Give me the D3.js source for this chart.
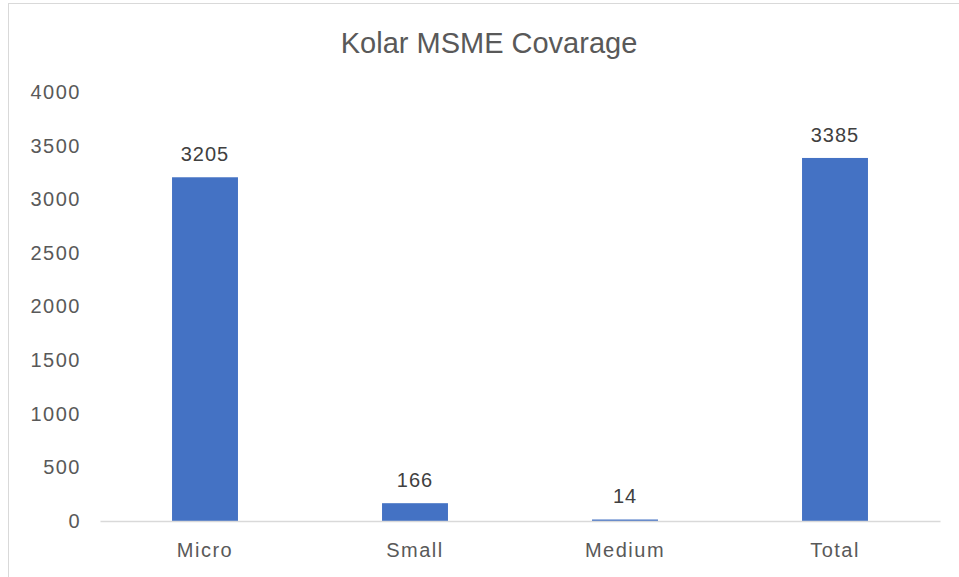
<!DOCTYPE html>
<html>
<head>
<meta charset="utf-8">
<script src="https://cdn.jsdelivr.net/npm/d3@7"></script>
<style>
  body { margin: 0; background: #fff; }
  text { font-family: "Liberation Sans", Arial, sans-serif; }
</style>
</head>
<body>
<script>
"use strict";

// Width and height
let w = 959;
let h = 577;

// chart data
let categories = ["Micro", "Small", "Medium", "Total"];
let values = [3205, 166, 14, 3385];
let yTicks = [0, 500, 1000, 1500, 2000, 2500, 3000, 3500, 4000];
let title = "Kolar MSME Covarage";

let margin = {top: 92, right: 19, bottom: 56, left: 100};

let svg = d3.select("body")
    .append("svg")
    .attr("width", w)
    .attr("height", h);

// chart frame
svg.append("rect")
    .attr("x", 8.5)
    .attr("y", 3.5)
    .attr("width", w + 10)
    .attr("height", h + 10)
    .attr("fill", "none")
    .attr("stroke", "#d9d9d9");

let x = d3.scaleBand()
    .domain(categories)
    .range([margin.left, w - margin.right])
    .paddingInner(0.686)
    .paddingOuter(0.343);

let y = d3.scaleLinear()
    .domain([0, 4000])
    .range([h - margin.bottom, margin.top]);

svg.append("text")
    .attr("x", 489)
    .attr("y", 53)
    .attr("text-anchor", "middle")
    .attr("fill", "#595959")
    .style("font-size", "29px")
    .text(title);

// y axis labels, no line
let yAxis = svg.append("g")
    .attr("transform", `translate(${margin.left},0)`)
    .call(d3.axisLeft(y).tickValues(yTicks).tickFormat(d3.format("d"))
        .tickSize(0).tickPadding(19));
yAxis.select(".domain").remove();
yAxis.selectAll("text")
    .attr("fill", "#595959")
    .style("font-size", "20px")
    .style("letter-spacing", "1.5px");

// bars
svg.append("g")
    .selectAll("rect")
    .data(values)
    .enter().append("rect")
    .attr("x", (d, i) => x(categories[i]))
    .attr("y", d => y(d))
    .attr("width", x.bandwidth())
    .attr("height", d => y(0) - y(d))
    .attr("fill", "#4472c4");

// x axis
let xAxis = svg.append("g")
    .attr("transform", `translate(0,${y(0)})`)
    .call(d3.axisBottom(x).tickSize(0).tickPadding(22));
xAxis.select(".domain")
    .attr("stroke", "#d9d9d9")
    .attr("stroke-width", 1.5);
xAxis.selectAll("text")
    .attr("fill", "#595959")
    .style("font-size", "20px")
    .style("letter-spacing", "1.5px");

// data labels
svg.append("g")
    .selectAll("text")
    .data(values)
    .enter().append("text")
    .attr("x", (d, i) => x(categories[i]) + x.bandwidth() / 2)
    .attr("y", d => y(d) - 16)
    .attr("text-anchor", "middle")
    .attr("fill", "#404040")
    .style("font-size", "20px")
    .style("letter-spacing", "1px")
    .text(d => d);
</script>
</body>
</html>
